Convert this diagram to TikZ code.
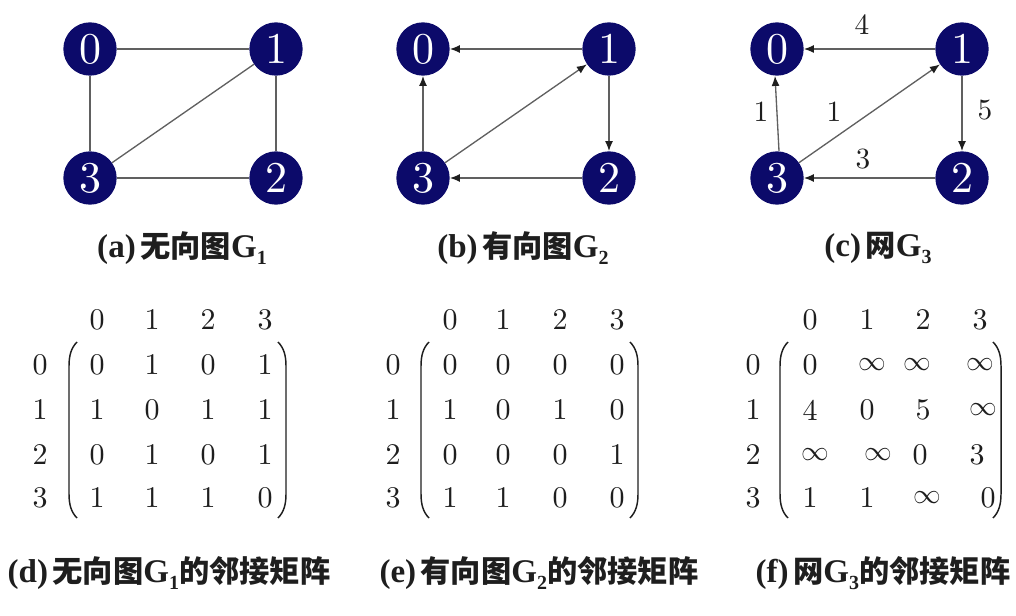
\documentclass[tikz,border=0pt]{standalone}
\usepackage{fontspec}
\newfontfamily\cjk{Noto Sans CJK SC}
\newfontfamily\capfont{Liberation Serif}
\newfontfamily\lmten{lmroman10-regular.otf}
\usetikzlibrary{arrows.meta,calc}
\definecolor{navy}{HTML}{0C0A6A}
\definecolor{edgegray}{HTML}{606060}
\definecolor{ink}{HTML}{1E1E1E}
\newcommand{\capsub}[1]{\raisebox{-0.22em}{\fontsize{15}{15}\selectfont #1}}
\newcommand{\zh}[1]{{\cjk\bfseries\fontsize{22.7}{22.7}\selectfont #1}}
\newcommand{\lt}[1]{{\capfont\bfseries\fontsize{24.8}{24.8}\selectfont #1}}
\tikzset{
  vtx/.style={circle, fill=navy, minimum size=40pt, inner sep=0pt, text=white,
              font=\lmten\fontsize{33}{33}\selectfont},
  edgeline/.style={draw=edgegray, line width=1pt},
  arcline/.style={edgeline, -{Latex[length=7.5pt,width=6pt,color=ink]}},
  wlabel/.style={inner sep=0pt, text=ink, font=\lmten\fontsize{22}{22}\selectfont},
  ent/.style={inner sep=0pt, text=ink, font=\lmten\fontsize{22.5}{22.5}\selectfont},
  captext/.style={inner sep=0pt, text=ink},
  paren/.style={draw=ink, line width=1.1pt}
}
\begin{document}
\begin{tikzpicture}[x=0.75pt,y=-0.75pt]
\useasboundingbox (0,0) rectangle (1016,616);

% ---------- (a) undirected graph G1 ----------
\node[vtx] (a0) at (90,49) {0};
\node[vtx] (a1) at (276,49) {1};
\node[vtx] (a3) at (90,178) {3};
\node[vtx] (a2) at (276,178) {2};
\draw[edgeline] (a0) -- (a1);
\draw[edgeline] (a0) -- (a3);
\draw[edgeline] (a1) -- (a2);
\draw[edgeline] (a3) -- (a2);
\draw[edgeline] (a3) -- (a1);
\node[captext] (capa) at (182,248) {\lt{(a)} \zh{无向图}\lt{G\capsub{1}}};

% ---------- (b) directed graph G2 ----------
\node[vtx] (b0) at (423,49) {0};
\node[vtx] (b1) at (609,49) {1};
\node[vtx] (b3) at (423,178) {3};
\node[vtx] (b2) at (609,178) {2};
\draw[arcline] (b1) -- (b0);
\draw[arcline] (b3) -- (b0);
\draw[arcline] (b1) -- (b2);
\draw[arcline] (b2) -- (b3);
\draw[arcline] (b3) -- (b1);
\node[captext] (capb) at (523,248) {\lt{(b)} \zh{有向图}\lt{G\capsub{2}}};

% ---------- (c) network G3 ----------
\node[vtx] (c0) at (777,49) {0};
\node[vtx] (c1) at (962,49) {1};
\node[vtx] (c3) at (777,178) {3};
\node[vtx] (c2) at (962,178) {2};
\draw[arcline] (c1) -- (c0);
\draw[arcline] ($(c3.north)+(2,0)$) -- ($(c0.south)+(-2,0)$);
\draw[arcline] (c1) -- (c2);
\draw[arcline] (c2) -- (c3);
\draw[arcline] (c3) -- (c1);
\node[wlabel] (w4) at (862,25) {4};
\node[wlabel] (w1a) at (761,112) {1};
\node[wlabel] (w1b) at (834,112) {1};
\node[wlabel] (w5) at (985,110) {5};
\node[wlabel] (w3) at (863,159) {3};
\node[captext] (capc) at (878,248) {\lt{(c)} \zh{网}\lt{G\capsub{3}}};

% ---------- matrices ----------
% (d)
\foreach \c/\x in {0/97,1/152,2/208,3/265} {\node[ent] (dh\c) at (\x,320) {\c};}
\foreach \r/\y in {0/365,1/410,2/455,3/498} {\node[ent] (dr\r) at (40,\y) {\r};}
\foreach \r/\y/\a/\b/\cc/\d in {0/365/0/1/0/1, 1/410/1/0/1/1, 2/455/0/1/0/1, 3/498/1/1/1/0} {
  \node[ent] (d\r-0) at (97,\y) {\a};
  \node[ent] (d\r-1) at (152,\y) {\b};
  \node[ent] (d\r-2) at (208,\y) {\cc};
  \node[ent] (d\r-3) at (265,\y) {\d};
}
\draw[paren] (77,342) .. controls (71,348) and (69,356) .. (69,366) -- (69,494) .. controls (69,504) and (71,512) .. (77,518);
\draw[paren] (278,342) .. controls (284,348) and (286,356) .. (286,366) -- (286,494) .. controls (286,504) and (284,512) .. (278,518);
\node[captext] (capd) at (169,573) {\lt{(d)} \zh{无向图}\lt{G\capsub{1}}\zh{的邻接矩阵}};

% (e)
\foreach \c/\x in {0/450,1/503,2/560,3/617} {\node[ent] (eh\c) at (\x,320) {\c};}
\foreach \r/\y in {0/365,1/410,2/455,3/498} {\node[ent] (er\r) at (393,\y) {\r};}
\foreach \r/\y/\a/\b/\cc/\d in {0/365/0/0/0/0, 1/410/1/0/1/0, 2/455/0/0/0/1, 3/498/1/1/0/0} {
  \node[ent] (e\r-0) at (450,\y) {\a};
  \node[ent] (e\r-1) at (503,\y) {\b};
  \node[ent] (e\r-2) at (560,\y) {\cc};
  \node[ent] (e\r-3) at (617,\y) {\d};
}
\draw[paren] (429,342) .. controls (423,348) and (421,356) .. (421,366) -- (421,494) .. controls (421,504) and (423,512) .. (429,518);
\draw[paren] (630,342) .. controls (636,348) and (638,356) .. (638,366) -- (638,494) .. controls (638,504) and (636,512) .. (630,518);
\node[captext] (cape) at (539,573) {\lt{(e)} \zh{有向图}\lt{G\capsub{2}}\zh{的邻接矩阵}};

% (f)
\foreach \c/\x in {0/810,1/867,2/923,3/980} {\node[ent] (fh\c) at (\x,320) {\c};}
\foreach \r/\y in {0/365,1/410,2/455,3/498} {\node[ent] (fr\r) at (753,\y) {\r};}
\node[ent] (f0-0) at (810,365) {0};
\node[ent] (f0-1) at (872,365) {$\infty$};
\node[ent] (f0-2) at (917,365) {$\infty$};
\node[ent] (f0-3) at (980,365) {$\infty$};
\node[ent] (f1-0) at (810,410) {4};
\node[ent] (f1-1) at (867,410) {0};
\node[ent] (f1-2) at (923,410) {5};
\node[ent] (f1-3) at (983,410) {$\infty$};
\node[ent] (f2-0) at (815,455) {$\infty$};
\node[ent] (f2-1) at (878,455) {$\infty$};
\node[ent] (f2-2) at (920,455) {0};
\node[ent] (f2-3) at (977,455) {3};
\node[ent] (f3-0) at (810,498) {1};
\node[ent] (f3-1) at (867,498) {1};
\node[ent] (f3-2) at (927,498) {$\infty$};
\node[ent] (f3-3) at (988,498) {0};
\draw[paren] (788,342) .. controls (782,348) and (780,356) .. (780,366) -- (780,494) .. controls (780,504) and (782,512) .. (788,518);
\draw[paren] (993,342) .. controls (999,348) and (1001,356) .. (1001,366) -- (1001,494) .. controls (1001,504) and (999,512) .. (993,518);
\node[captext] (capf) at (883,573) {\lt{(f)} \zh{网}\lt{G\capsub{3}}\zh{的邻接矩阵}};
\end{tikzpicture}
\end{document}
